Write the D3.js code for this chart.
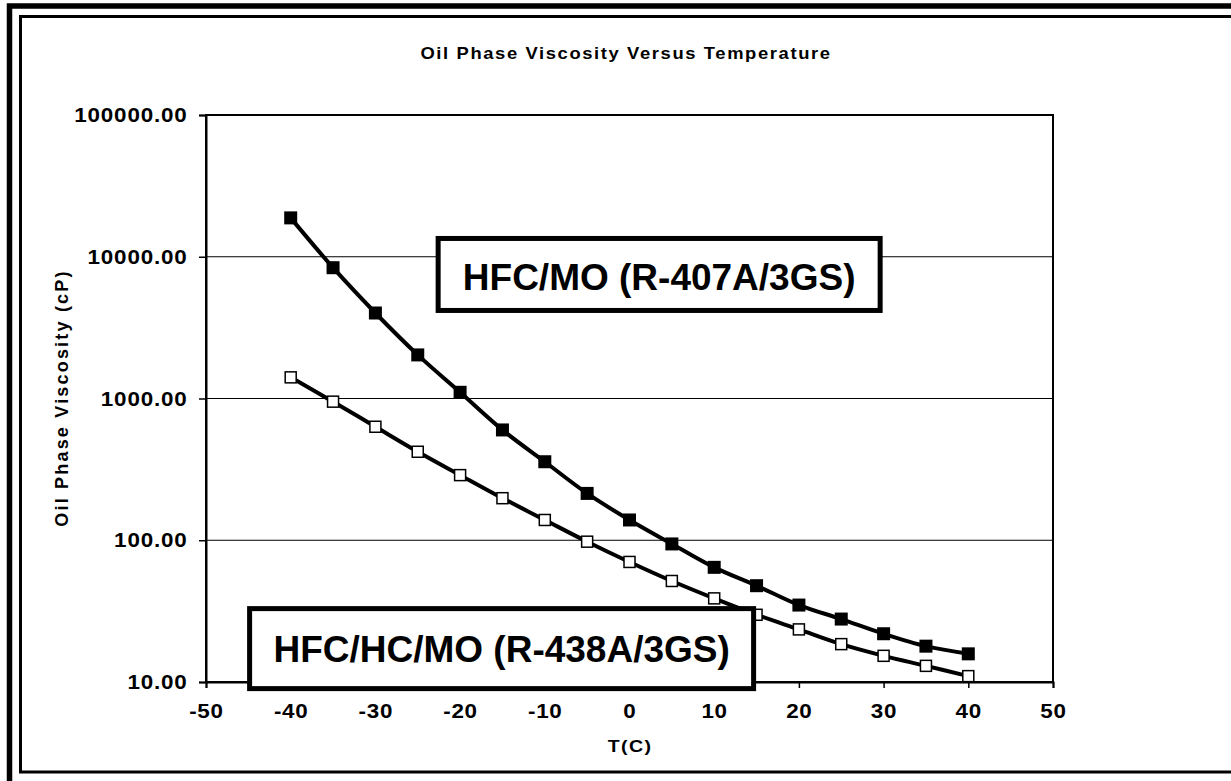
<!DOCTYPE html>
<html><head><meta charset="utf-8">
<script src="https://cdn.jsdelivr.net/npm/d3@7"></script>
<style>
html,body{margin:0;padding:0;background:#fff;}
svg{display:block;}
text{font-family:"Liberation Sans",Arial,sans-serif;font-weight:bold;fill:#000;}
</style></head>
<body>
<svg id="chart" width="1231" height="781"></svg>
<script>
// ---- data ----
const temperatures = [-40,-35,-30,-25,-20,-15,-10,-5,0,5,10,15,20,25,30,35,40];
const viscosityR407A = [18800,8370,4010,2030,1106,600,358,214,139,94.2,64.4,47.8,34.9,27.8,21.9,17.9,15.8];
const viscosityR438A = [1410,950,632,421,288,198,139,97.7,70.3,51.6,38.9,29.8,23.5,18.5,15.3,13.0,11.0];
const xTicks = [-50,-40,-30,-20,-10,0,10,20,30,40,50];
const yTicks = [10,100,1000,10000,100000];
const titleText = "Oil Phase Viscosity Versus Temperature";
const xAxisTitle = "T(C)";
const yAxisTitle = "Oil Phase Viscosity (cP)";
const labelR407A = "HFC/MO (R-407A/3GS)";
const labelR438A = "HFC/HC/MO (R-438A/3GS)";
// annotation anchors in data coordinates [T, viscosity]
const labelAnchorR407A = [3.5, 7500];
const labelAnchorR438A = [-15.1, 17.2];

const svg = d3.select("#chart");

// frames
svg.append("rect").attr("x",9.5).attr("y",6).attr("width",1260).attr("height",800)
  .attr("fill","none").attr("stroke","#000").attr("stroke-width",5.5);
svg.append("rect").attr("x",20.5).attr("y",16.5).attr("width",1250).attr("height",755.5)
  .attr("fill","none").attr("stroke","#000").attr("stroke-width",3);

const L=206, R=1053, T=115, B=682;
const x = d3.scaleLinear().domain([-50,50]).range([L,R]);
const y = d3.scaleLog().domain([10,100000]).range([B,T]);

const SX = 1.15;
function stext(g, px, py, str, size, anchor, ls, sx, rot){
  const t = g.append("text")
    .attr("transform", `translate(${px},${py}) scale(${sx||1},1)` + (rot?` rotate(${rot})`:""))
    .attr("font-size", size).attr("text-anchor", anchor||"middle")
    .attr("letter-spacing", ls||0).text(str);
  return t;
}

// gridlines
svg.append("g").selectAll("line").data(yTicks.slice(1,-1)).join("line")
  .attr("x1",L).attr("x2",R).attr("y1",d=>y(d)).attr("y2",d=>y(d))
  .attr("stroke","#000").attr("stroke-width",1);

// plot border
svg.append("rect").attr("x",L).attr("y",T).attr("width",R-L).attr("height",B-T)
  .attr("fill","none").attr("stroke","#000").attr("stroke-width",2);

// axes
const xAxis = d3.axisBottom(x).tickValues(xTicks).tickSize(6).tickFormat("");
svg.append("g").attr("transform",`translate(0,${B})`).call(xAxis)
  .call(g=>{g.select(".domain").attr("stroke-width",2);g.selectAll(".tick line").attr("stroke-width",1.5);});
const yAxis = d3.axisLeft(y).tickValues(yTicks).tickSize(7).tickFormat("");
svg.append("g").attr("transform",`translate(${L},0)`).call(yAxis)
  .call(g=>{g.select(".domain").attr("stroke-width",2);g.selectAll(".tick line").attr("stroke-width",1.5);});

const lab = svg.append("g");
const fmtX = v => String(v);
xTicks.forEach(v=>stext(lab, x(v)+0.4, 718, fmtX(v), 19.5, "middle", 0.6, SX));
yTicks.forEach(v=>stext(lab, 187.5, y(v)+7, d3.format(".2f")(v), 19.5, "end", 0.7, SX));

// titles
stext(svg, 626, 59, titleText, 16, "middle", 1.4, SX);
stext(svg, 630, 752, xAxisTitle, 17, "middle", 1.2, SX);
stext(svg, 68, 398, yAxisTitle, 18, "middle", 2.2, 1.05, -90);

// series
const line = d3.line().x((d,i)=>x(temperatures[i])).y(d=>y(d)).curve(d3.curveCatmullRom.alpha(0.5));
svg.append("path").datum(viscosityR407A).attr("d",line).attr("fill","none").attr("stroke","#000").attr("stroke-width",4);
svg.append("path").datum(viscosityR438A).attr("d",line).attr("fill","none").attr("stroke","#000").attr("stroke-width",4);

const s1=13;
svg.append("g").selectAll("rect").data(viscosityR407A).join("rect")
  .attr("x",(d,i)=>x(temperatures[i])-s1/2).attr("y",d=>y(d)-s1/2).attr("width",s1).attr("height",s1)
  .attr("fill","#000");
const s2=11;
svg.append("g").selectAll("rect").data(viscosityR438A).join("rect")
  .attr("x",(d,i)=>x(temperatures[i])-s2/2).attr("y",d=>y(d)-s2/2).attr("width",s2).attr("height",s2)
  .attr("fill","#fff").attr("stroke","#000").attr("stroke-width",1.5);

// annotation boxes
function box(anchor, w, h, str, dy){
  const cx = x(anchor[0]), cy = y(anchor[1]);
  svg.append("rect").attr("x",cx-w/2).attr("y",cy-h/2).attr("width",w).attr("height",h)
    .attr("fill","#fff").attr("stroke","#000").attr("stroke-width",5);
  stext(svg, cx, cy+dy, str, 37, "middle", 0, 1);
}
box(labelAnchorR407A, 442, 72, labelR407A, 16);
box(labelAnchorR438A, 504, 80, labelR438A, 13);
</script>
</body></html>
